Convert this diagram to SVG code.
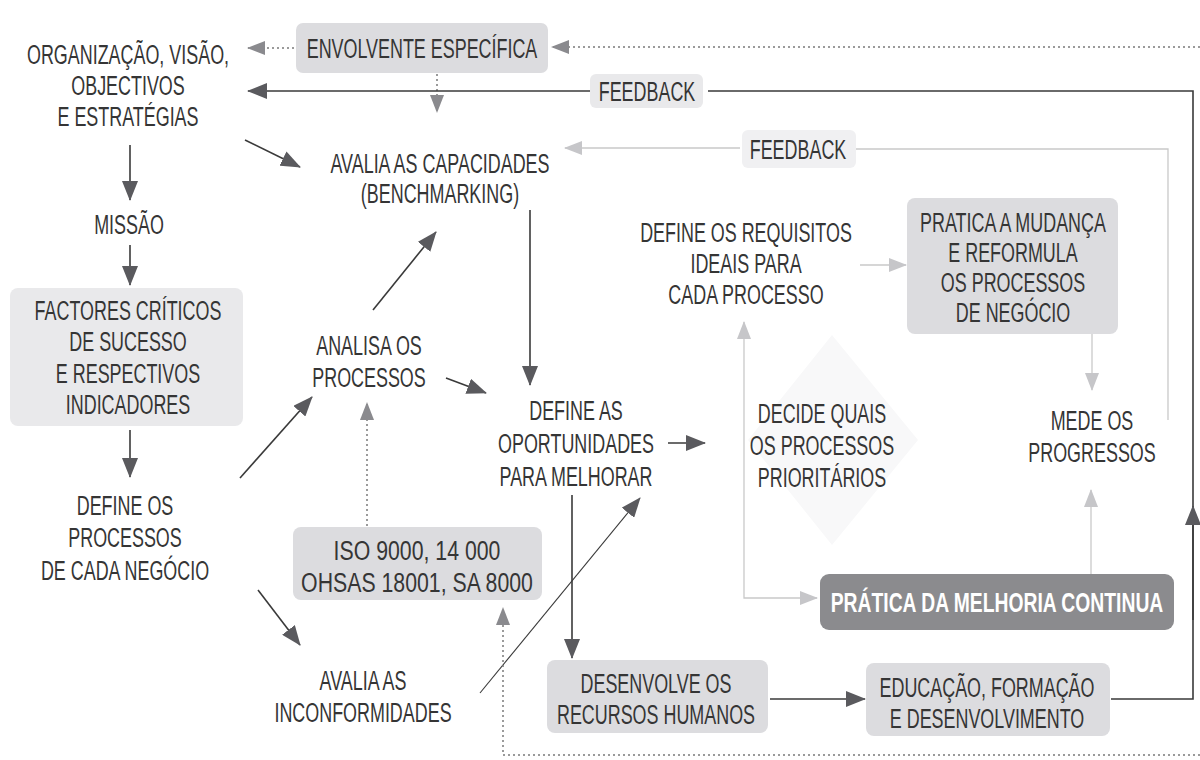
<svg xmlns="http://www.w3.org/2000/svg" width="1200" height="760" viewBox="0 0 1200 760">
<style>
.t{font-family:"Liberation Sans",Arial,sans-serif;font-size:28px;fill:#353535;text-anchor:middle}
.tb{font-family:"Liberation Sans",Arial,sans-serif;font-size:28px;font-weight:bold;fill:#ffffff;text-anchor:middle}
.dk{stroke:#3a3a3a;stroke-width:1.6;fill:none}
.th{stroke:#3a3a3a;stroke-width:1.1;fill:none}
.lt{stroke:#c9c9c9;stroke-width:1.3;fill:none}
.dt{stroke:#7a7a7a;stroke-width:1.5;stroke-dasharray:2 3;fill:none}
.box{fill:#dcdcdf}
.boxl{fill:#e9e9eb}
.boxf{fill:#f0f0f2}
</style>
<defs>
<marker id="aD" markerUnits="userSpaceOnUse" markerWidth="20" markerHeight="16" refX="19" refY="8" orient="auto-start-reverse"><path d="M0,0 L20,8 L0,16 Z" fill="#5a5a5e"/></marker>
<marker id="aL" markerUnits="userSpaceOnUse" markerWidth="18" markerHeight="14" refX="17" refY="7" orient="auto-start-reverse"><path d="M0,0 L18,7 L0,14 Z" fill="#c6c6c9"/></marker>
<marker id="aG" markerUnits="userSpaceOnUse" markerWidth="18" markerHeight="14" refX="17" refY="7" orient="auto-start-reverse"><path d="M0,0 L18,7 L0,14 Z" fill="#8a8a8e"/></marker>
</defs>
<rect width="1200" height="760" fill="#ffffff"/>

<polygon points="832,335 918,440 832,545 748,440" fill="#f8f8f9"/>

<g id="connectors">
<line class="dt" x1="294" y1="48" x2="248" y2="48" marker-end="url(#aG)"/>
<line class="dt" x1="1200" y1="47" x2="552" y2="47" marker-end="url(#aG)"/>
<line class="dt" x1="437" y1="74" x2="437" y2="112" marker-end="url(#aG)"/>
<path class="dk" d="M1111,699 H1193 V91 H708"/>
<line class="dk" x1="1193" y1="620" x2="1193" y2="506" marker-end="url(#aD)"/>
<line class="dk" x1="590" y1="91" x2="248" y2="91" marker-end="url(#aD)"/>
<line class="dk" x1="245" y1="140" x2="300" y2="167" marker-end="url(#aD)"/>
<line class="lt" x1="740" y1="148" x2="565" y2="148" marker-end="url(#aL)"/>
<path class="lt" d="M856,149 H1168 V420"/>
<line class="dk" x1="530" y1="210" x2="530" y2="385" marker-end="url(#aD)"/>
<line class="dk" x1="130" y1="145" x2="130" y2="200" marker-end="url(#aD)"/>
<line class="dk" x1="130" y1="245" x2="130" y2="285" marker-end="url(#aD)"/>
<line class="dk" x1="130" y1="430" x2="130" y2="477" marker-end="url(#aD)"/>
<line class="dk" x1="240" y1="478" x2="312" y2="397" marker-end="url(#aD)"/>
<line class="dk" x1="373" y1="310" x2="436" y2="232" marker-end="url(#aD)"/>
<line class="dk" x1="446" y1="378" x2="486" y2="393" marker-end="url(#aD)"/>
<line class="dt" x1="367" y1="526" x2="367" y2="403" marker-end="url(#aG)"/>
<line class="dk" x1="258" y1="590" x2="300" y2="645" marker-end="url(#aD)"/>
<line class="th" x1="480" y1="693" x2="640" y2="498" marker-end="url(#aD)"/>
<line class="dk" x1="668" y1="443" x2="705" y2="443" marker-end="url(#aD)"/>
<line class="dk" x1="572" y1="495" x2="572" y2="658" marker-end="url(#aD)"/>
<line class="dk" x1="770" y1="699" x2="865" y2="699" marker-end="url(#aD)"/>
<path class="dt" d="M1200,755 H503 V608" marker-end="url(#aG)"/>
<line class="lt" x1="860" y1="265" x2="906" y2="265" marker-end="url(#aL)"/>
<line class="lt" x1="1092" y1="334" x2="1092" y2="390" marker-end="url(#aL)"/>
<line class="lt" x1="1091" y1="574" x2="1091" y2="490" marker-end="url(#aL)"/>
<path class="lt" d="M744,322 V598 H817" marker-start="url(#aL)" marker-end="url(#aL)"/>
</g>

<g id="n-org">
<text class="t" transform="translate(128,64) scale(0.64,1)"><tspan x="0">ORGANIZAÇÃO, VISÃO,</tspan><tspan x="0" dy="31">OBJECTIVOS</tspan><tspan x="0" dy="31">E ESTRATÉGIAS</tspan></text>
</g>
<g id="n-envolvente">
<rect class="box" x="296" y="23" width="252" height="50" rx="7"/>
<text class="t" transform="translate(422,58) scale(0.64,1)">ENVOLVENTE ESPECÍFICA</text>
</g>
<g id="n-feedback1">
<rect class="boxl" x="590" y="74" width="113" height="34" rx="6"/>
<text class="t" transform="translate(647,101) scale(0.64,1)">FEEDBACK</text>
</g>
<g id="n-avalia-cap">
<text class="t" transform="translate(440,173) scale(0.64,1)"><tspan x="0">AVALIA AS CAPACIDADES</tspan><tspan x="0" dy="30">(BENCHMARKING)</tspan></text>
</g>
<g id="n-feedback2">
<rect class="boxf" x="742" y="130" width="114" height="38" rx="6"/>
<text class="t" transform="translate(798,159) scale(0.64,1)">FEEDBACK</text>
</g>
<g id="n-missao">
<text class="t" transform="translate(129,234) scale(0.64,1)">MISSÃO</text>
</g>
<g id="n-factores">
<rect class="boxl" x="10" y="288" width="233" height="138" rx="8"/>
<text class="t" transform="translate(128,320) scale(0.64,1)"><tspan x="0">FACTORES CRÍTICOS</tspan><tspan x="0" dy="31.5">DE SUCESSO</tspan><tspan x="0" dy="31.5">E RESPECTIVOS</tspan><tspan x="0" dy="31.5">INDICADORES</tspan></text>
</g>
<g id="n-define-processos">
<text class="t" transform="translate(125,515) scale(0.64,1)"><tspan x="0">DEFINE OS</tspan><tspan x="0" dy="32.5">PROCESSOS</tspan><tspan x="0" dy="32.5">DE CADA NEGÓCIO</tspan></text>
</g>
<g id="n-analisa">
<text class="t" transform="translate(369,355) scale(0.64,1)"><tspan x="0">ANALISA OS</tspan><tspan x="0" dy="32">PROCESSOS</tspan></text>
</g>
<g id="n-oportunidades">
<text class="t" transform="translate(576,420) scale(0.64,1)"><tspan x="0">DEFINE AS</tspan><tspan x="0" dy="33">OPORTUNIDADES</tspan><tspan x="0" dy="33">PARA MELHORAR</tspan></text>
</g>
<g id="n-iso">
<rect class="box" x="293" y="527" width="249" height="73" rx="8"/>
<text class="t" transform="translate(417,560) scale(0.76,1)"><tspan x="0">ISO 9000, 14 000</tspan><tspan x="0" dy="32">OHSAS 18001, SA 8000</tspan></text>
</g>
<g id="n-inconformidades">
<text class="t" transform="translate(363,690) scale(0.64,1)"><tspan x="0">AVALIA AS</tspan><tspan x="0" dy="32">INCONFORMIDADES</tspan></text>
</g>
<g id="n-desenvolve">
<rect class="box" x="547" y="660" width="221" height="73" rx="8"/>
<text class="t" transform="translate(656,693) scale(0.64,1)"><tspan x="0">DESENVOLVE OS</tspan><tspan x="0" dy="31">RECURSOS HUMANOS</tspan></text>
</g>
<g id="n-educacao">
<rect class="box" x="866" y="663" width="244" height="73" rx="8"/>
<text class="t" transform="translate(987,697) scale(0.64,1)"><tspan x="0">EDUCAÇÃO, FORMAÇÃO</tspan><tspan x="0" dy="31">E DESENVOLVIMENTO</tspan></text>
</g>
<g id="n-requisitos">
<text class="t" transform="translate(746,242) scale(0.64,1)"><tspan x="0">DEFINE OS REQUISITOS</tspan><tspan x="0" dy="31">IDEAIS PARA</tspan><tspan x="0" dy="31">CADA PROCESSO</tspan></text>
</g>
<g id="n-pratica-mudanca">
<rect class="box" x="907" y="198" width="211" height="136" rx="8"/>
<text class="t" transform="translate(1013,232) scale(0.64,1)"><tspan x="0">PRATICA A MUDANÇA</tspan><tspan x="0" dy="30">E REFORMULA</tspan><tspan x="0" dy="30">OS PROCESSOS</tspan><tspan x="0" dy="30">DE NEGÓCIO</tspan></text>
</g>
<g id="n-mede">
<text class="t" transform="translate(1092,430) scale(0.64,1)"><tspan x="0">MEDE OS</tspan><tspan x="0" dy="32">PROGRESSOS</tspan></text>
</g>
<g id="n-decide">
<text class="t" transform="translate(822,423) scale(0.64,1)"><tspan x="0">DECIDE QUAIS</tspan><tspan x="0" dy="32">OS PROCESSOS</tspan><tspan x="0" dy="32">PRIORITÁRIOS</tspan></text>
</g>
<g id="n-melhoria">
<rect x="820" y="574" width="354" height="56" rx="9" fill="#8b8b8e"/>
<text class="tb" transform="translate(997,612) scale(0.69,1)">PRÁTICA DA MELHORIA CONTINUA</text>
</g>
</svg>
